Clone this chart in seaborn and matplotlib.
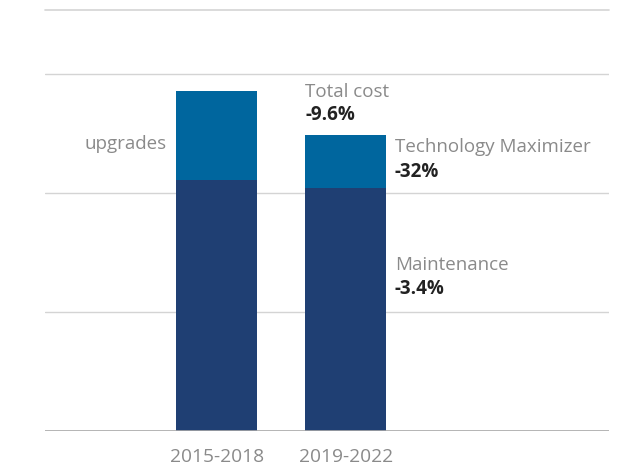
import matplotlib
matplotlib.use("Agg")
import matplotlib.pyplot as plt
import seaborn as sns
import pandas as pd

periods = ["2015-2018", "2019-2022"]
maintenance = [2.11, 2.045]
extra = [0.75, 0.44]          # upgrades / Technology Maximizer
totals = [m + e for m, e in zip(maintenance, extra)]

changes_total = "-9.6%"
changes_extra = "-32%"
changes_maint = "-3.4%"

C_TOP = "#00669E"
C_MAINT = "#1F3F73"
GREY = "#8a8a8a"
DARK = "#222222"

sns.set_theme(style="white")
plt.rcParams["font.family"] = ["Open Sans", "DejaVu Sans"]

df = pd.DataFrame({"period": periods, "maintenance": maintenance, "total": totals})

fig = plt.figure(figsize=(6.2, 4.65), dpi=100)
ax = fig.add_axes([45 / 620, 34 / 465, 564 / 620, 421 / 465])

bw = 0.63
sns.barplot(data=df, x="period", y="total", color=C_TOP, width=bw,
            saturation=1, linewidth=0, ax=ax, zorder=3)
sns.barplot(data=df, x="period", y="maintenance", color=C_MAINT, width=bw,
            saturation=1, linewidth=0, ax=ax, zorder=4)

ax.set_xlim(-1.33, 3.04)
ax.set_ylim(0, 3.54)
for y in [1, 2, 3]:
    ax.axhline(y, color="#d4d4d4", lw=1, zorder=1)
ax.axhline(3.54, color="#d4d4d4", lw=1.2, zorder=1, clip_on=False)
ax.axhline(0, color="#a8a8a8", lw=1.2, zorder=5)

for s in ax.spines.values():
    s.set_visible(False)
ax.set_yticks([])
ax.set_xlabel("")
ax.set_ylabel("")
ax.tick_params(axis="x", length=0, pad=12, labelsize=13.8, labelcolor=GREY)

left2 = 1 - bw / 2
right2 = 1 + bw / 2
fs = 13.5

# total cost label above second bar
ax.annotate("Total cost", xy=(left2, totals[1]), xytext=(0, 31.5),
            textcoords="offset points", ha="left", va="center",
            fontsize=fs, color=GREY)
ax.annotate(changes_total, xy=(left2, totals[1]), xytext=(0, 14.5),
            textcoords="offset points", ha="left", va="center",
            fontsize=fs, color=DARK, fontweight="bold")

# technology maximizer label
ax.annotate("Technology Maximizer", xy=(right2, totals[1]), xytext=(6, -8.5),
            textcoords="offset points", ha="left", va="center",
            fontsize=fs, color=GREY)
ax.annotate(changes_extra, xy=(right2, totals[1]), xytext=(6, -26),
            textcoords="offset points", ha="left", va="center",
            fontsize=fs, color=DARK, fontweight="bold")

# maintenance label
ax.annotate("Maintenance", xy=(right2, maintenance[1]), xytext=(6, -55.5),
            textcoords="offset points", ha="left", va="center",
            fontsize=fs, color=GREY)
ax.annotate(changes_maint, xy=(right2, maintenance[1]), xytext=(6, -73),
            textcoords="offset points", ha="left", va="center",
            fontsize=fs, color=DARK, fontweight="bold")

# upgrades label left of first bar
ax.annotate("upgrades", xy=(0 - bw / 2, totals[0]), xytext=(-6.5, -38.5),
            textcoords="offset points", ha="right", va="center",
            fontsize=fs, color=GREY)

fig.savefig("out.png", dpi=100)
